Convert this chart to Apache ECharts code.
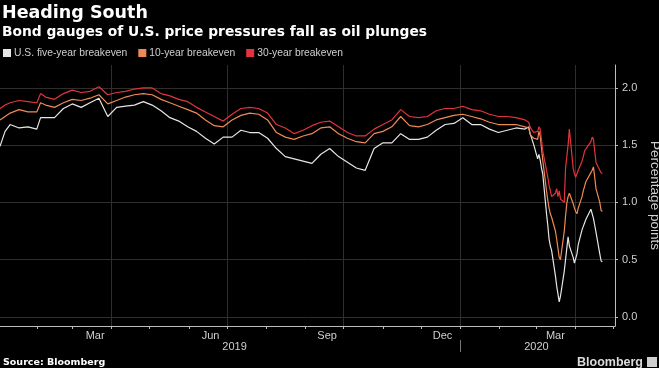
<!DOCTYPE html>
<html><head><meta charset="utf-8">
<script src="https://cdn.jsdelivr.net/npm/echarts@6/dist/echarts.min.js"></script>
<style>html,body{margin:0;padding:0;background:#000;}#c{width:659px;height:368px;}</style>
</head><body><div id="c"></div>
<script>
const dates = [
 '2019-01-03','2019-01-07','2019-01-11','2019-01-18','2019-01-25','2019-02-01','2019-02-04','2019-02-08','2019-02-15','2019-02-22',
 '2019-03-01','2019-03-08','2019-03-15','2019-03-22','2019-03-29','2019-04-05','2019-04-12','2019-04-19','2019-04-26','2019-05-03',
 '2019-05-10','2019-05-17','2019-05-24','2019-05-31','2019-06-07','2019-06-14','2019-06-21','2019-06-28','2019-07-05','2019-07-12',
 '2019-07-19','2019-07-26','2019-08-02','2019-08-09','2019-08-16','2019-08-23','2019-08-30','2019-09-06','2019-09-13','2019-09-20',
 '2019-09-27','2019-10-04','2019-10-11','2019-10-18','2019-10-25','2019-11-01','2019-11-08','2019-11-15','2019-11-22','2019-11-29',
 '2019-12-06','2019-12-13','2019-12-20','2019-12-27','2020-01-03','2020-01-10','2020-01-17','2020-01-24','2020-01-31','2020-02-07',
 '2020-02-14','2020-02-21','2020-02-24','2020-02-25','2020-02-26','2020-02-27','2020-02-28','2020-03-02','2020-03-03','2020-03-04',
 '2020-03-05','2020-03-06','2020-03-09','2020-03-10','2020-03-11','2020-03-12','2020-03-13','2020-03-16','2020-03-17','2020-03-18',
 '2020-03-19','2020-03-20','2020-03-23','2020-03-24','2020-03-25','2020-03-26','2020-03-27','2020-03-30','2020-03-31','2020-04-01',
 '2020-04-02','2020-04-03','2020-04-06','2020-04-07','2020-04-08','2020-04-09','2020-04-13','2020-04-14','2020-04-15','2020-04-16',
 '2020-04-17','2020-04-20','2020-04-21','2020-04-22'
];
const fiveYear = [
 1.49,1.62,1.68,1.65,1.66,1.64,1.74,1.74,1.74,1.82,
 1.86,1.83,1.87,1.91,1.75,1.83,1.84,1.85,1.88,1.85,
 1.80,1.74,1.71,1.66,1.62,1.56,1.51,1.57,1.57,1.63,
 1.61,1.61,1.56,1.47,1.40,1.38,1.36,1.34,1.42,1.47,
 1.40,1.35,1.30,1.28,1.47,1.52,1.52,1.60,1.55,1.55,
 1.57,1.63,1.68,1.69,1.74,1.68,1.68,1.64,1.61,1.63,
 1.65,1.64,1.66,1.60,1.57,1.56,1.50,1.38,1.42,1.37,
 1.30,1.25,0.90,0.80,0.68,0.62,0.58,0.36,0.27,0.20,
 0.13,0.18,0.40,0.50,0.60,0.70,0.62,0.52,0.47,0.48,
 0.55,0.63,0.76,0.79,0.82,0.85,0.94,0.95,0.86,0.80,
 0.74,0.55,0.49,0.48
];
const tenYear = [
 1.72,1.75,1.78,1.81,1.79,1.79,1.87,1.85,1.83,1.87,
 1.90,1.89,1.91,1.94,1.86,1.89,1.92,1.94,1.95,1.94,
 1.90,1.87,1.84,1.81,1.78,1.72,1.67,1.66,1.72,1.76,
 1.78,1.77,1.72,1.61,1.57,1.55,1.58,1.60,1.65,1.66,
 1.60,1.56,1.53,1.52,1.60,1.62,1.66,1.75,1.67,1.66,
 1.68,1.72,1.74,1.76,1.77,1.75,1.73,1.70,1.68,1.68,
 1.68,1.66,1.65,1.60,1.58,1.57,1.56,1.55,1.62,1.58,
 1.48,1.37,1.10,1.02,0.95,0.90,0.87,0.75,0.68,0.60,
 0.52,0.50,0.75,0.88,0.99,1.05,1.08,0.99,0.95,0.92,
 0.90,0.95,1.05,1.10,1.14,1.18,1.26,1.28,1.31,1.22,
 1.12,1.00,0.93,0.92
];
const thirtyYear = [
 1.82,1.85,1.87,1.89,1.88,1.87,1.95,1.92,1.90,1.95,
 1.98,1.96,1.97,2.01,1.94,1.96,1.97,1.99,2.00,2.00,
 1.95,1.93,1.90,1.88,1.83,1.79,1.75,1.71,1.77,1.82,
 1.83,1.82,1.78,1.68,1.65,1.60,1.63,1.67,1.70,1.71,
 1.66,1.61,1.58,1.58,1.64,1.68,1.72,1.81,1.75,1.74,
 1.75,1.80,1.82,1.82,1.84,1.81,1.80,1.77,1.75,1.75,
 1.74,1.72,1.70,1.66,1.64,1.63,1.61,1.62,1.66,1.64,
 1.55,1.45,1.28,1.22,1.15,1.10,1.05,1.08,1.12,1.05,
 1.10,1.03,1.00,1.30,1.40,1.50,1.64,1.30,1.25,1.22,
 1.25,1.28,1.36,1.40,1.45,1.46,1.53,1.57,1.55,1.45,
 1.35,1.28,1.26,1.25
];
const seriesNames = ['U.S. five-year breakeven','10-year breakeven','30-year breakeven'];
const monthTicks = ['2019-02-01','2019-03-01','2019-04-01','2019-05-01','2019-06-01','2019-07-01','2019-08-01','2019-09-01',
 '2019-10-01','2019-11-01','2019-12-01','2020-01-01','2020-02-01','2020-03-01','2020-04-01','2020-05-01'];
const monthLabelDates = ['2019-03-19','2019-06-18','2019-09-18','2019-12-18','2020-03-16'];
const monthNames = ['Jan','Feb','Mar','Apr','May','Jun','Jul','Aug','Sep','Oct','Nov','Dec'];
const gridLineDates = ['2019-04-01','2019-07-01','2019-10-01','2020-01-01','2020-04-01'];
const yearLabelDates = ['2019-07-07','2020-03-01'];
const yearDivider = ['2020-01-01'];
const yTicks = [0, 0.5, 1, 1.5, 2];

const ts = s => Date.parse(s + 'T00:00:00Z');
const xMin = ts('2019-01-03'), xMax = ts('2020-05-02');
const axisColor = '#bdbdbd', textColor = '#cfcfcf', gridColor = '#2e2e2e';
const colors = ['#e6e6e6', '#ef8a55', '#e2343f'];
const vals = [fiveYear, tenYear, thirtyYear];

const chart = echarts.init(document.getElementById('c'), null, {renderer: 'canvas'});
chart.setOption({
  backgroundColor: '#000',
  animation: false,
  title: [
    {text: 'Heading South', left: 2, top: 4, padding: 0,
     textStyle: {color: '#fff', fontSize: 17.5, fontWeight: 'bold', fontFamily: 'DejaVu Sans'}},
    {text: 'Bond gauges of U.S. price pressures fall as oil plunges', left: 2, top: 25, padding: 0,
     textStyle: {color: '#fff', fontSize: 13.8, fontWeight: 'bold', fontFamily: 'DejaVu Sans'}},
    {text: 'Source: Bloomberg', left: 3, top: 358, padding: 0,
     textStyle: {color: '#fff', fontSize: 9.5, fontWeight: 'bold', fontFamily: 'DejaVu Sans'}},
    {text: 'Bloomberg', left: 577, top: 356, padding: 0,
     textStyle: {color: '#dcdcdc', fontSize: 12.5, fontWeight: 'bold', fontFamily: 'Liberation Sans'}}
  ],
  graphic: [
    {type: 'rect', shape: {x: 647, y: 357, width: 10, height: 10}, style: {fill: '#cfcfcf'}}
  ],
  legend: {
    left: 3, top: 48, padding: 0, itemWidth: 8, itemHeight: 8, itemGap: 11, icon: 'rect',
    textStyle: {color: textColor, fontSize: 10.3, fontFamily: 'Liberation Sans', padding: [0,0,0,-2]},
    data: seriesNames
  },
  grid: {left: 0, right: 44, top: 65, bottom: 42, outerBoundsMode: 'none', containLabel: false},
  xAxis: [
    {type: 'value', min: xMin, max: xMax, position: 'bottom',
     axisLine: {show: true, onZero: false, lineStyle: {color: axisColor, width: 1}},
     axisTick: {show: true, length: 3, customValues: monthTicks.map(ts), lineStyle: {color: axisColor}},
     axisLabel: {show: true, customValues: monthLabelDates.map(ts), margin: 4, color: textColor, fontSize: 11,
       fontFamily: 'Liberation Sans', formatter: v => monthNames[new Date(v).getUTCMonth()]},
     splitLine: {show: false}},
    {type: 'value', min: xMin, max: xMax, position: 'bottom', offset: 14,
     axisLine: {show: false, onZero: false},
     axisTick: {show: true, length: 12, customValues: yearDivider.map(ts), lineStyle: {color: '#777'}},
     axisLabel: {show: true, customValues: yearLabelDates.map(ts), margin: 1, color: textColor, fontSize: 11,
       fontFamily: 'Liberation Sans', formatter: v => String(new Date(v).getUTCFullYear())},
     splitLine: {show: false}},
    {type: 'value', min: xMin, max: xMax, position: 'bottom',
     axisLine: {show: false, onZero: false},
     axisTick: {show: false, customValues: gridLineDates.map(ts)},
     axisLabel: {show: false},
     splitLine: {show: true, lineStyle: {color: gridColor, width: 1}}}
  ],
  yAxis: {
    type: 'value', position: 'right', min: -0.08, max: 2.2,
    name: 'Percentage points', nameLocation: 'middle', nameRotate: -90, nameGap: 25,
    nameTextStyle: {color: textColor, fontSize: 13.5, fontFamily: 'Liberation Sans'},
    axisLine: {show: true, onZero: false, lineStyle: {color: axisColor, width: 1}},
    axisTick: {show: true, length: 3, customValues: yTicks, lineStyle: {color: axisColor}},
    axisLabel: {show: true, customValues: yTicks, margin: 7, color: textColor, fontSize: 11,
      fontFamily: 'Liberation Sans', formatter: v => Number(v).toFixed(1)},
    splitLine: {show: true, lineStyle: {color: gridColor, width: 1}}
  },
  series: seriesNames.map((name, k) => ({
    name, type: 'line', xAxisIndex: 0, yAxisIndex: 0, showSymbol: false, symbol: 'none',
    color: colors[k], lineStyle: {color: colors[k], width: 1.2},
    data: dates.map((d, i) => [ts(d), vals[k][i]])
  }))
});
</script></body></html>
